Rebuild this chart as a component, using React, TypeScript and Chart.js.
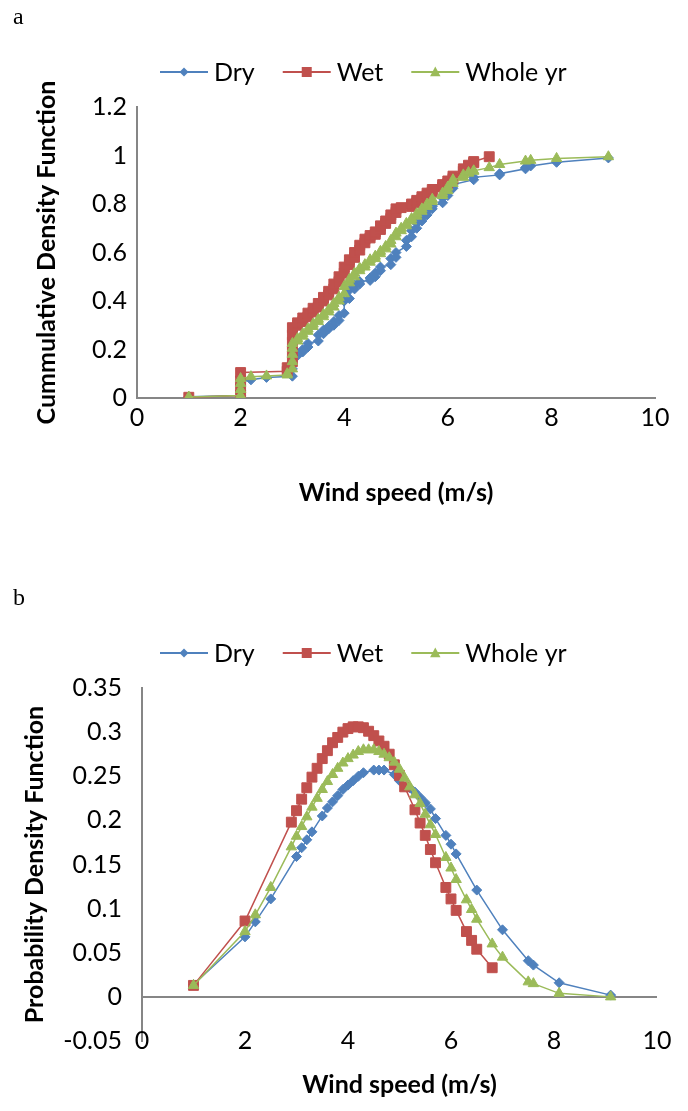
import React, { useEffect, useRef } from 'react';
import { Chart, registerables } from 'chart.js';

Chart.register(...registerables);

// ---------- Data: (a) cumulative density function ----------
const cdfDryX = [1, 2, 2, 2, 2, 2.2, 2.5, 3, 3, 3, 3, 3.1, 3.1, 3.2, 3.2, 3.3, 3.3, 3.5, 3.5, 3.6, 3.6, 3.7, 3.7, 3.8, 3.8, 3.9, 3.9, 4.0, 4.0, 4.1, 4.1, 4.2, 4.2, 4.3, 4.3, 4.5, 4.5, 4.6, 4.6, 4.7, 4.7, 4.9, 4.9, 5.0, 5.0, 5.2, 5.2, 5.3, 5.3, 5.4, 5.4, 5.5, 5.5, 5.6, 5.6, 5.7, 5.7, 5.9, 5.9, 6.0, 6.0, 6.1, 6.1, 6.5, 6.5, 7.0, 7.0, 7.5, 7.5, 7.6, 8.1, 9.1];
const cdfDryY = [0.005, 0.01, 0.03, 0.05, 0.065, 0.075, 0.085, 0.09, 0.12, 0.15, 0.17, 0.175, 0.185, 0.19, 0.2, 0.21, 0.225, 0.235, 0.26, 0.265, 0.28, 0.285, 0.295, 0.3, 0.315, 0.32, 0.34, 0.35, 0.4, 0.41, 0.445, 0.45, 0.465, 0.47, 0.48, 0.485, 0.495, 0.5, 0.515, 0.525, 0.54, 0.55, 0.575, 0.58, 0.6, 0.625, 0.65, 0.665, 0.69, 0.7, 0.72, 0.73, 0.745, 0.755, 0.77, 0.78, 0.79, 0.805, 0.825, 0.835, 0.855, 0.865, 0.88, 0.9, 0.91, 0.92, 0.925, 0.945, 0.95, 0.957, 0.972, 0.99];

const cdfWetX = [1, 2, 2, 2, 2, 2.9, 2.9, 3, 3, 3, 3, 3, 3.1, 3.1, 3.2, 3.2, 3.3, 3.3, 3.4, 3.4, 3.5, 3.5, 3.6, 3.6, 3.7, 3.7, 3.8, 3.8, 3.9, 3.9, 4.0, 4.0, 4.1, 4.1, 4.2, 4.2, 4.3, 4.3, 4.4, 4.4, 4.5, 4.5, 4.6, 4.6, 4.7, 4.7, 4.8, 4.8, 4.9, 4.9, 5.0, 5.0, 5.1, 5.3, 5.3, 5.4, 5.4, 5.5, 5.5, 5.6, 5.6, 5.7, 5.7, 5.9, 5.9, 6.0, 6.0, 6.1, 6.1, 6.3, 6.3, 6.4, 6.4, 6.5, 6.5, 6.8];
const cdfWetY = [0.003, 0.01, 0.04, 0.07, 0.105, 0.11, 0.125, 0.15, 0.19, 0.23, 0.26, 0.29, 0.3, 0.31, 0.315, 0.33, 0.335, 0.35, 0.355, 0.37, 0.375, 0.39, 0.4, 0.415, 0.425, 0.44, 0.45, 0.47, 0.48, 0.5, 0.515, 0.54, 0.55, 0.57, 0.58, 0.6, 0.61, 0.63, 0.64, 0.655, 0.66, 0.67, 0.675, 0.685, 0.695, 0.71, 0.72, 0.73, 0.74, 0.755, 0.765, 0.78, 0.785, 0.79, 0.8, 0.805, 0.815, 0.82, 0.83, 0.835, 0.845, 0.85, 0.86, 0.87, 0.88, 0.885, 0.895, 0.905, 0.915, 0.935, 0.945, 0.955, 0.96, 0.97, 0.975, 0.995];

const cdfAllX = [1, 2, 2, 2, 2, 2.2, 2.5, 2.9, 2.9, 3, 3, 3, 3, 3, 3.1, 3.1, 3.2, 3.2, 3.3, 3.3, 3.4, 3.4, 3.5, 3.5, 3.6, 3.6, 3.7, 3.7, 3.8, 3.8, 3.9, 3.9, 4.0, 4.0, 4.1, 4.1, 4.2, 4.2, 4.3, 4.3, 4.4, 4.4, 4.5, 4.5, 4.6, 4.6, 4.7, 4.7, 4.8, 4.8, 4.9, 4.9, 5.0, 5.0, 5.1, 5.1, 5.2, 5.2, 5.3, 5.3, 5.4, 5.4, 5.5, 5.5, 5.6, 5.6, 5.7, 5.7, 5.9, 5.9, 6.0, 6.0, 6.1, 6.1, 6.3, 6.3, 6.4, 6.4, 6.5, 6.5, 6.8, 7.0, 7.5, 7.6, 8.1, 9.1];
const cdfAllY = [0.004, 0.01, 0.035, 0.06, 0.08, 0.088, 0.091, 0.095, 0.1, 0.12, 0.15, 0.18, 0.205, 0.225, 0.235, 0.245, 0.255, 0.265, 0.275, 0.285, 0.295, 0.305, 0.315, 0.325, 0.335, 0.345, 0.355, 0.365, 0.375, 0.39, 0.4, 0.415, 0.43, 0.46, 0.475, 0.49, 0.5, 0.515, 0.525, 0.535, 0.54, 0.55, 0.56, 0.57, 0.575, 0.585, 0.595, 0.605, 0.615, 0.625, 0.635, 0.65, 0.665, 0.68, 0.69, 0.7, 0.71, 0.72, 0.73, 0.74, 0.75, 0.76, 0.77, 0.78, 0.79, 0.8, 0.81, 0.82, 0.835, 0.845, 0.855, 0.87, 0.885, 0.9, 0.91, 0.92, 0.927, 0.93, 0.935, 0.937, 0.95, 0.963, 0.977, 0.98, 0.988, 0.995];

// ---------- Data: (b) probability density function ----------
const pdfDryX = [1, 2, 2.2, 2.5, 3.0, 3.1, 3.2, 3.3, 3.5, 3.6, 3.7, 3.8, 3.9, 4.0, 4.1, 4.2, 4.3, 4.5, 4.6, 4.7, 4.9, 5.0, 5.2, 5.3, 5.4, 5.5, 5.6, 5.7, 5.9, 6.0, 6.1, 6.5, 7.0, 7.5, 7.6, 8.1, 9.1];
const pdfDryY = [0.014, 0.068, 0.085, 0.111, 0.159, 0.169, 0.178, 0.187, 0.205, 0.214, 0.221, 0.228, 0.235, 0.24, 0.245, 0.25, 0.254, 0.257, 0.257, 0.257, 0.252, 0.245, 0.237, 0.232, 0.226, 0.22, 0.213, 0.202, 0.183, 0.173, 0.162, 0.121, 0.076, 0.041, 0.036, 0.016, 0.002];

const pdfWetX = [1, 2, 2.9, 3.0, 3.1, 3.2, 3.3, 3.4, 3.5, 3.6, 3.7, 3.8, 3.9, 4.0, 4.1, 4.2, 4.3, 4.4, 4.5, 4.6, 4.7, 4.8, 4.9, 5.0, 5.1, 5.3, 5.4, 5.5, 5.6, 5.7, 5.9, 6.0, 6.1, 6.3, 6.4, 6.5, 6.8];
const pdfWetY = [0.013, 0.086, 0.198, 0.211, 0.224, 0.237, 0.249, 0.259, 0.27, 0.279, 0.288, 0.294, 0.3, 0.304, 0.306, 0.306, 0.305, 0.301, 0.296, 0.29, 0.284, 0.275, 0.263, 0.251, 0.238, 0.212, 0.197, 0.183, 0.167, 0.152, 0.124, 0.111, 0.098, 0.074, 0.064, 0.054, 0.033];

const pdfAllX = [1, 2, 2.2, 2.5, 2.9, 3.0, 3.1, 3.2, 3.3, 3.4, 3.5, 3.6, 3.7, 3.8, 3.9, 4.0, 4.1, 4.2, 4.3, 4.4, 4.5, 4.6, 4.7, 4.8, 4.9, 5.0, 5.1, 5.2, 5.3, 5.4, 5.5, 5.6, 5.7, 5.9, 6.0, 6.1, 6.3, 6.4, 6.5, 6.8, 7.0, 7.5, 7.6, 8.1, 9.1];
const pdfAllY = [0.013, 0.074, 0.093, 0.124, 0.17, 0.182, 0.193, 0.204, 0.215, 0.225, 0.235, 0.244, 0.252, 0.259, 0.265, 0.27, 0.274, 0.278, 0.28, 0.28, 0.28, 0.278, 0.275, 0.271, 0.266, 0.258, 0.248, 0.238, 0.229, 0.219, 0.207, 0.195, 0.184, 0.158, 0.146, 0.133, 0.11, 0.099, 0.088, 0.06, 0.045, 0.017, 0.015, 0.004, 0.0];

const seriesNames = ['Dry', 'Wet', 'Whole yr'];
const xTitle = 'Wind speed (m/s)';
const yTitleA = 'Cummulative Density Function';
const yTitleB = 'Probability Density Function';

// ---------- Styles ----------
const COLORS = ['#4F81BD', '#C0504D', '#9BBB59'];
const STYLES = ['rectRot', 'rect', 'triangle'];
const RADII = [5, 7, 6];
const ORDERS = [2, 1, 0];
const AXIS = '#868686';
const FONT = 'Lato, "Noto Sans", sans-serif';
const TICK_SIZE = 25;
const tickFont = { family: FONT, size: TICK_SIZE };
const titleFont = { family: FONT, size: 25, weight: 'bold' as const };

function dataset(i: number, xs: number[], ys: number[]) {
  return {
    label: seriesNames[i],
    data: xs.map((x, k) => ({ x, y: ys[k] })),
    showLine: true,
    borderColor: COLORS[i],
    backgroundColor: COLORS[i],
    borderWidth: 1.5,
    pointStyle: STYLES[i],
    pointRadius: RADII[i],
    pointBorderWidth: 1,
    pointBorderColor: COLORS[i],
    pointBackgroundColor: COLORS[i],
    order: ORDERS[i],
    tension: 0,
  };
}

function drawMarker(ctx: CanvasRenderingContext2D, style: string, x: number, y: number, r: number, color: string) {
  ctx.fillStyle = color;
  ctx.beginPath();
  if (style === 'rectRot') {
    ctx.moveTo(x, y - r); ctx.lineTo(x + r, y); ctx.lineTo(x, y + r); ctx.lineTo(x - r, y);
  } else if (style === 'rect') {
    ctx.rect(x - r, y - r, 2 * r, 2 * r);
  } else {
    ctx.moveTo(x, y - r); ctx.lineTo(x + r * 0.95, y + r * 0.75); ctx.lineTo(x - r * 0.95, y + r * 0.75);
  }
  ctx.closePath();
  ctx.fill();
}

const excelLegend = {
  id: 'excelLegend',
  afterDraw(chart: any, _args: any, opts: any) {
    const ctx: CanvasRenderingContext2D = chart.ctx;
    ctx.save();
    ctx.font = `25px ${FONT}`;
    ctx.textBaseline = 'middle';
    ctx.textAlign = 'left';
    let x = opts.x0;
    const y = opts.y;
    const mr = [4.5, 5, 5.5];
    seriesNames.forEach((name, i) => {
      ctx.strokeStyle = COLORS[i];
      ctx.lineWidth = 2;
      ctx.beginPath();
      ctx.moveTo(x, y);
      ctx.lineTo(x + 48, y);
      ctx.stroke();
      drawMarker(ctx, STYLES[i], x + 24, y, mr[i], COLORS[i]);
      ctx.fillStyle = '#000';
      ctx.fillText(name, x + 54, y + 1);
      x += 54 + ctx.measureText(name).width + 28;
    });
    ctx.restore();
  },
};

// Draws the x tick labels level with the lowest y tick (Excel "low" label position)
const lowXLabels = {
  id: 'lowXLabels',
  afterDraw(chart: any, _args: any, opts: any) {
    if (!opts || !opts.enabled) return;
    const ctx: CanvasRenderingContext2D = chart.ctx;
    const xs = chart.scales.x;
    const yPix = chart.scales.y.getPixelForValue(chart.scales.y.min);
    ctx.save();
    ctx.font = `${TICK_SIZE}px ${FONT}`;
    ctx.fillStyle = '#000';
    ctx.textAlign = 'center';
    ctx.textBaseline = 'middle';
    xs.ticks.forEach((t: any) => {
      ctx.fillText(fmt(t.value), xs.getPixelForValue(t.value), yPix);
    });
    ctx.restore();
  },
};

function fmt(v: number) {
  return String(Number(Number(v).toFixed(2)));
}

function makeConfig(kind: 'a' | 'b'): any {
  const isA = kind === 'a';
  const datasets = isA
    ? [dataset(0, cdfDryX, cdfDryY), dataset(1, cdfWetX, cdfWetY), dataset(2, cdfAllX, cdfAllY)]
    : [dataset(0, pdfDryX, pdfDryY), dataset(1, pdfWetX, pdfWetY), dataset(2, pdfAllX, pdfAllY)];
  return {
    type: 'scatter',
    data: { datasets },
    plugins: [excelLegend, lowXLabels],
    options: {
      responsive: false,
      animation: false,
      events: [],
      layout: { padding: isA ? { top: 99, right: 25, bottom: 0, left: 0 } : { top: 80, right: 23, bottom: 0, left: 0 } },
      plugins: {
        legend: { display: false },
        tooltip: { enabled: false },
        excelLegend: isA ? { x0: 152, y: 64 } : { x0: 152, y: 45 },
        lowXLabels: { enabled: !isA },
      },
      scales: {
        x: {
          type: 'linear',
          min: 0,
          max: 10,
          ticks: { display: isA, stepSize: 2, padding: 5, font: tickFont, color: '#000', callback: (v: number) => fmt(v) },
          grid: { display: false, drawTicks: false },
          border: { display: isA, color: AXIS, width: 2 },
          title: { display: true, text: xTitle, font: titleFont, color: '#000', padding: { top: 0, bottom: isA ? 30 : 3 } },
          afterFit: (s: any) => { s.height = isA ? 140 : 62; },
        },
        y: {
          type: 'linear',
          min: isA ? 0 : -0.05,
          max: isA ? 1.2 : 0.35,
          ticks: { stepSize: isA ? 0.2 : 0.05, padding: isA ? 10 : 20, font: tickFont, color: '#000', callback: (v: number) => fmt(v) },
          grid: isA
            ? { display: false, drawTicks: false }
            : {
                display: true,
                drawTicks: false,
                lineWidth: 2,
                color: (c: any) => (c.tick && Math.abs(c.tick.value) < 1e-9 ? AXIS : 'rgba(0,0,0,0)'),
              },
          border: { display: true, color: AXIS, width: 2 },
          title: { display: true, text: isA ? yTitleA : yTitleB, font: titleFont, color: '#000', padding: { top: isA ? 24 : 12, bottom: 0 } },
          afterFit: (s: any) => { s.width = isA ? 129 : 134; },
        },
      },
    },
  };
}

function ChartCanvas({ kind, top, height }: { kind: 'a' | 'b'; top: number; height: number }) {
  const ref = useRef<HTMLCanvasElement>(null);
  useEffect(() => {
    const chart = new Chart(ref.current as HTMLCanvasElement, makeConfig(kind));
    return () => chart.destroy();
  }, [kind]);
  return (
    <canvas
      ref={ref}
      width={672}
      height={height}
      style={{ position: 'absolute', left: 0, top, width: 672, height, display: 'block' }}
    />
  );
}

const labelStyle: React.CSSProperties = {
  position: 'absolute',
  left: 5,
  fontFamily: '"Liberation Serif", "Times New Roman", serif',
  fontSize: 24,
  lineHeight: '24px',
  color: '#000',
};

export default function App() {
  return (
    <div style={{ position: 'relative', width: 672, height: 1095, background: '#fff' }}>
      <ChartCanvas kind="a" top={0} height={530} />
      <ChartCanvas kind="b" top={600} height={495} />
      <div style={{ ...labelStyle, top: -4 }}>a</div>
      <div style={{ ...labelStyle, top: 577 }}>b</div>
    </div>
  );
}
